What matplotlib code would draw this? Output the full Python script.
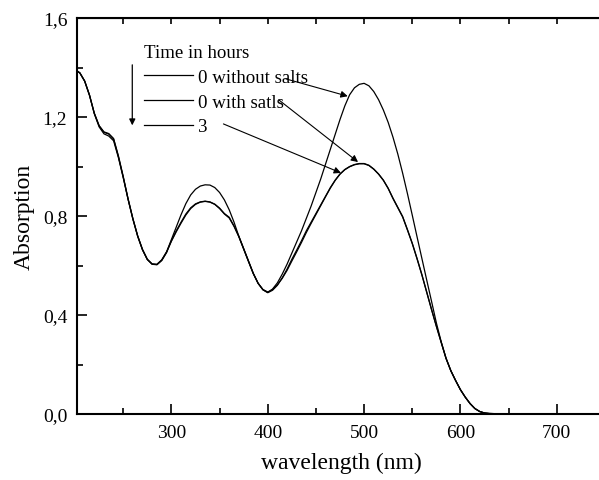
import matplotlib
matplotlib.use("Agg")
import matplotlib.pyplot as plt
from matplotlib.ticker import MultipleLocator, FuncFormatter

plt.rcParams['font.family'] = ['Liberation Serif', 'DejaVu Serif']

# wavelength (nm)
wl = [200, 205, 210, 215, 220, 225, 230, 235, 240, 245,
      250, 255, 260, 265, 270, 275, 280, 285, 290, 295,
      300, 305, 310, 315, 320, 325, 330, 335, 340, 345,
      350, 355, 360, 365, 370, 375, 380, 385, 390, 395,
      400, 405, 410, 415, 420, 425, 430, 435, 440, 445,
      450, 455, 460, 465, 470, 475, 480, 485, 490, 495,
      500, 505, 510, 515, 520, 525, 530, 535, 540, 545,
      550, 555, 560, 565, 570, 575, 580, 585, 590, 595,
      600, 605, 610, 615, 620, 625, 630, 640, 650, 660, 670]

# 0 h without salts
abs_0_nosalt = [1.392, 1.378, 1.345, 1.288, 1.215, 1.165, 1.140, 1.133, 1.113, 1.043,
                0.960, 0.870, 0.790, 0.720, 0.665, 0.625, 0.606, 0.604, 0.622, 0.655,
                0.705, 0.755, 0.805, 0.850, 0.885, 0.908, 0.921, 0.926, 0.925, 0.915,
                0.895, 0.865, 0.825, 0.775, 0.718, 0.668, 0.618, 0.568, 0.528, 0.502,
                0.491, 0.505, 0.530, 0.565, 0.605, 0.650, 0.695, 0.740, 0.790, 0.840,
                0.895, 0.950, 1.010, 1.070, 1.130, 1.190, 1.245, 1.290, 1.318, 1.332,
                1.336, 1.326, 1.303, 1.270, 1.228, 1.178, 1.118, 1.050, 0.973, 0.890,
                0.803, 0.715, 0.628, 0.541, 0.455, 0.368, 0.292, 0.226, 0.175, 0.135,
                0.098, 0.068, 0.042, 0.022, 0.010, 0.004, 0.002, 0.001, 0.001, 0.001, 0.001]

# 0 h with salts
abs_0_salt = [1.392, 1.378, 1.345, 1.288, 1.213, 1.160, 1.132, 1.123, 1.104, 1.036,
              0.955, 0.868, 0.788, 0.718, 0.663, 0.624, 0.605, 0.603, 0.620, 0.652,
              0.700, 0.740, 0.775, 0.808, 0.833, 0.849, 0.857, 0.860, 0.857, 0.848,
              0.832, 0.810, 0.795, 0.760, 0.718, 0.668, 0.618, 0.568, 0.528, 0.502,
              0.490, 0.500, 0.520, 0.550, 0.585, 0.625, 0.662, 0.700, 0.740, 0.775,
              0.810, 0.845, 0.880, 0.915, 0.945, 0.970, 0.988, 1.000, 1.008, 1.012,
              1.012, 1.005, 0.990, 0.970, 0.945, 0.912, 0.872, 0.835, 0.798, 0.745,
              0.690, 0.628, 0.563, 0.493, 0.423, 0.355, 0.290, 0.225, 0.175, 0.135,
              0.098, 0.068, 0.042, 0.022, 0.010, 0.004, 0.002, 0.001, 0.001, 0.001, 0.001]

# 3 h
abs_3h = [1.392, 1.378, 1.345, 1.288, 1.215, 1.164, 1.138, 1.131, 1.111, 1.040,
          0.957, 0.869, 0.789, 0.719, 0.664, 0.625, 0.606, 0.605, 0.623, 0.655,
          0.698, 0.736, 0.771, 0.804, 0.830, 0.847, 0.856, 0.859, 0.856, 0.847,
          0.830, 0.808, 0.792, 0.758, 0.716, 0.666, 0.616, 0.567, 0.528, 0.503,
          0.493, 0.503, 0.522, 0.548, 0.580, 0.618, 0.655, 0.693, 0.733, 0.770,
          0.806, 0.842, 0.878, 0.913, 0.944, 0.969, 0.987, 0.999, 1.007, 1.011,
          1.011, 1.004, 0.989, 0.969, 0.944, 0.911, 0.870, 0.833, 0.796, 0.743,
          0.688, 0.626, 0.561, 0.491, 0.421, 0.354, 0.289, 0.225, 0.175, 0.135,
          0.098, 0.068, 0.042, 0.022, 0.010, 0.004, 0.002, 0.001, 0.001, 0.001, 0.001]

labels = ["0 without salts", "0 with satls", "3"]

fig = plt.figure(figsize=(5.99, 4.81), dpi=100)
ax = fig.add_axes([0.1285, 0.1372, 0.8815, 0.8233])

l1, = ax.plot(wl, abs_0_nosalt, color='black', lw=0.9, label=labels[0])
l2, = ax.plot(wl, abs_0_salt, color='black', lw=0.9, label=labels[1])
l3, = ax.plot(wl, abs_3h, color='black', lw=0.9, label=labels[2])

ax.set_xlim(202, 750)
ax.set_ylim(0, 1.6)
ax.xaxis.set_major_locator(MultipleLocator(100))
ax.xaxis.set_minor_locator(MultipleLocator(50))
ax.yaxis.set_major_locator(MultipleLocator(0.4))
ax.yaxis.set_minor_locator(MultipleLocator(0.2))
ax.yaxis.set_major_formatter(FuncFormatter(lambda v, p: f"{v:.1f}".replace('.', ',')))
ax.tick_params(which='both', direction='in', labelsize=14, width=1.2, pad=7)
ax.tick_params(which='major', length=7)
ax.tick_params(which='minor', length=4)
for s in ax.spines.values():
    s.set_linewidth(1.5)

top = ax.secondary_xaxis('top')
top.set_xticks(range(250, 751, 50))
top.tick_params(direction='in', length=4, width=1.2, labeltop=False)

ax.set_xlabel("wavelength (nm)", fontsize=17, labelpad=8)
ax.set_ylabel("Absorption", fontsize=17, labelpad=6)

leg = ax.legend(handles=[l1, l2, l3], title="Time in hours", loc='upper left',
                bbox_to_anchor=(0.127, 0.934), frameon=False, fontsize=13.6,
                title_fontsize=13.6, handlelength=2.6, handletextpad=0.28,
                labelspacing=0.4, borderpad=0, borderaxespad=0, alignment='left')

# downward time arrow next to the legend
ax.annotate('', xy=(259.4, 1.155), xytext=(259.4, 1.422),
            arrowprops=dict(arrowstyle='-|>', lw=0.9, color='black', mutation_scale=9))

# arrows from labels to curves
arrow_tails = [(418.8, 1.354), (411.5, 1.269), (354.0, 1.172)]
arrow_heads = [(483.0, 1.284), (493.7, 1.018), (476.0, 0.974)]
for (tx, ty), (hx, hy) in zip(arrow_tails, arrow_heads):
    ax.annotate('', xy=(hx, hy), xytext=(tx, ty),
                arrowprops=dict(arrowstyle='-|>', lw=0.8, color='black',
                                mutation_scale=10, shrinkA=0, shrinkB=0))

fig.savefig("out.png", dpi=100)
